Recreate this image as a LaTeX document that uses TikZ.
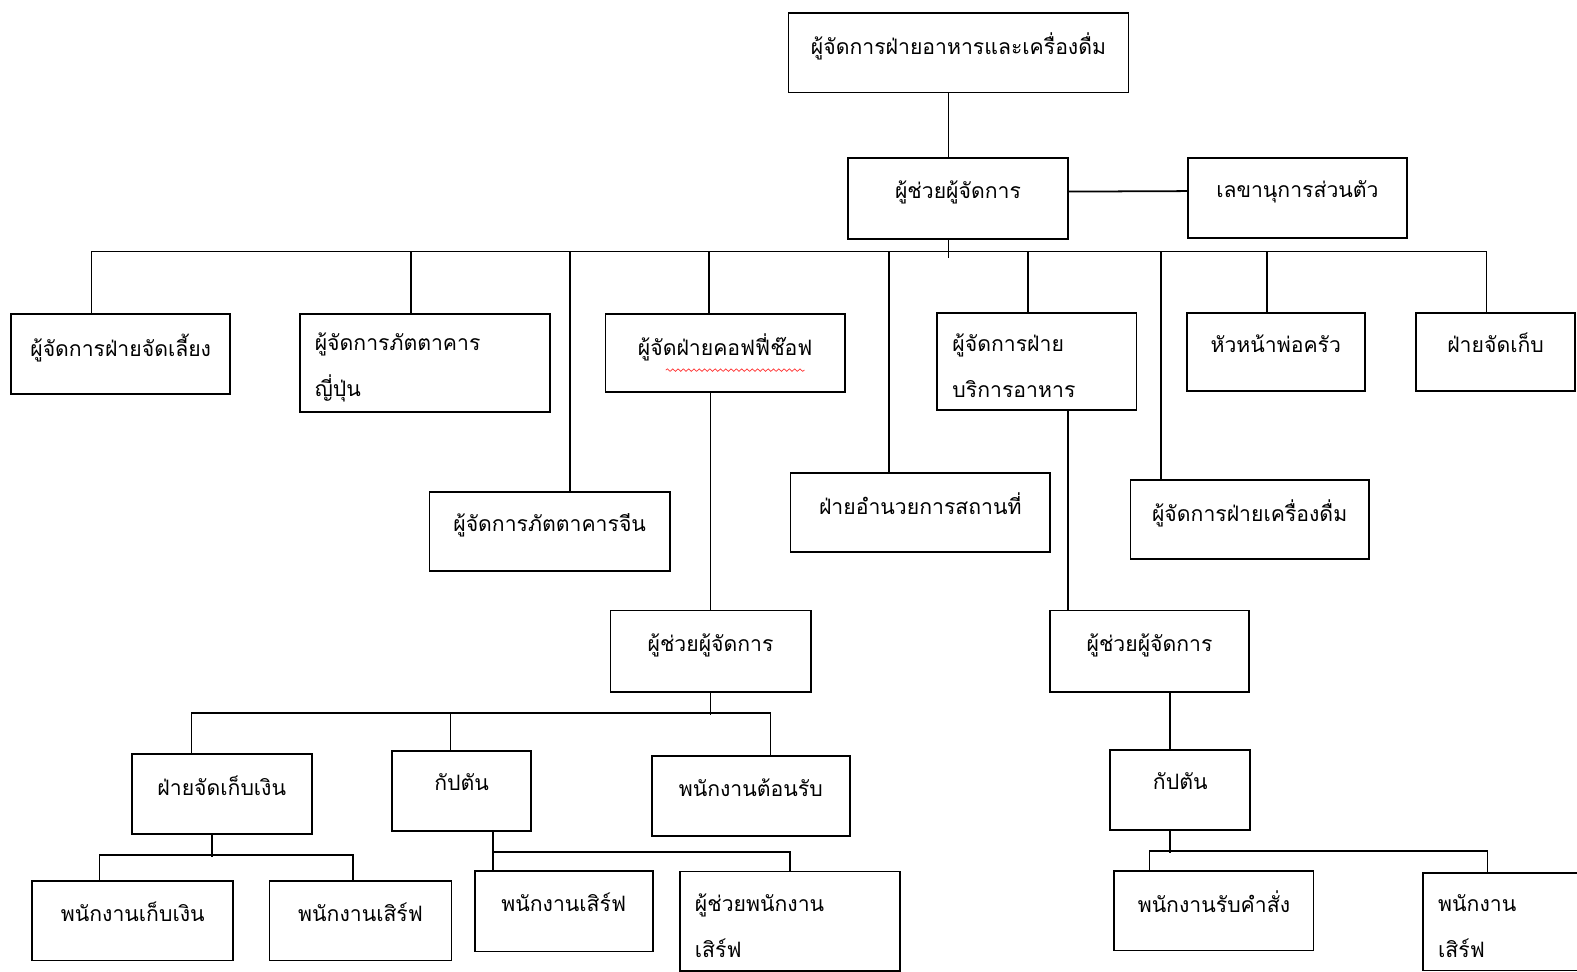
\documentclass[tikz,border=0pt]{standalone}
\usepackage{fontspec}
\setmainfont[Script=Thai]{Loma}
\usepackage{tikz}
\usetikzlibrary{calc,decorations.pathmorphing}

\begin{document}
\begin{tikzpicture}[
  x=0.02cm, y=-0.02cm,
  post/.style={
    draw,
    rectangle,
    line width=1pt,
    inner sep=0pt,
    text depth=10pt
  },
  wrap/.style={
    align=left,
    text width=#1,
    text depth={},
    text height=15pt
  },
  boxsize/.style 2 args={
    minimum width=#1*0.02cm,
    minimum height=#2*0.02cm
  },
  link/.style={line width=1pt},
  font=\fontsize{12pt}{26pt}\selectfont
]
\useasboundingbox (0,0) rectangle (1568,966);

\node[post,boxsize={338}{79}] (fnb) at (953,52.5) {ผู้จัดการฝ่ายอาหารและเครื่องดื่ม};
\node[post,boxsize={219}{81}] (asst) at (952.5,197.5) {ผู้ช่วยผู้จัดการ};
\node[post,boxsize={218}{80}] (secr) at (1290,197) {เลขานุการส่วนตัว};

\node[post,boxsize={218}{80}] (banq) at (120,352) {ผู้จัดการฝ่ายจัดเลี้ยง};
\node[post,wrap=4.38cm,boxsize={249}{98}] (japan) at (422.5,361) {ผู้จัดการภัตตาคาร\\ญี่ปุ่น};
\node[post,boxsize={239}{79}] (china) at (546.5,528.5) {ผู้จัดการภัตตาคารจีน};
\node[post,boxsize={238}{78}] (coffee) at (721,351) {ผู้จัดฝ่ายคอฟฟี่ช๊อฟ};
\node[post,boxsize={258}{79}] (venue) at (915,509.5) {ฝ่ายอำนวยการสถานที่};
\node[post,wrap=3.36cm,boxsize={198}{97}] (service) at (1031,359.5) {ผู้จัดการฝ่าย\\บริการอาหาร};
\node[post,boxsize={237}{79}] (bev) at (1242.5,516.5) {ผู้จัดการฝ่ายเครื่องดื่ม};
\node[post,boxsize={177}{78}] (chef) at (1268.5,350) {หัวหน้าพ่อครัว};
\node[post,boxsize={158}{78}] (store) at (1487,350) {ฝ่ายจัดเก็บ};

\node[post,boxsize={199}{81}] (casst) at (706.5,647.5) {ผู้ช่วยผู้จัดการ};
\node[post,boxsize={198}{81}] (sasst) at (1143,647.5) {ผู้ช่วยผู้จัดการ};

\node[post,boxsize={179}{79}] (cashdept) at (220.5,789.5) {ฝ่ายจัดเก็บเงิน};
\node[post,boxsize={138}{79}] (ccapt) at (459,786.5) {กัปตัน};
\node[post,boxsize={197}{79}] (recep) at (746.5,791.5) {พนักงานต้อนรับ};
\node[post,boxsize={139}{79}] (scapt) at (1173.5,785.5) {กัปตัน};

\node[post,boxsize={200}{79}] (cashier) at (132,915.5) {พนักงานเก็บเงิน};
\node[post,boxsize={181}{79}] (cwaiter) at (358.5,915.5) {พนักงานเสิร์ฟ};
\node[post,boxsize={177}{80}] (kwaiter) at (560.5,906) {พนักงานเสิร์ฟ};
\node[post,wrap=3.78cm,boxsize={219}{99}] (helper) at (785.5,916) {ผู้ช่วยพนักงาน\\เสิร์ฟ};
\node[post,boxsize={198}{79}] (order) at (1207,905.5) {พนักงานรับคำสั่ง};
\node[post,wrap=3.1cm,boxsize={185}{97}] (swaiter) at (1507.5,916.5) {พนักงาน\\เสิร์ฟ};

\draw[link] ($(fnb.south)+(-10,0)$) -- ++(0,65);
\draw[link] ($(asst.east)+(0,-7)$) -- ($(secr.west)+(0,-7)$);
\draw[link] ($(asst.south)+(-9.5,0)$) -- ++(0,18);
\draw[link] ($(banq.north)+(-29,0)$) -- ++(0,-61) -| ($(store.north)+(-9,0)$);
\draw[link] ($(japan.north)+(-14,0)$) -- ++(0,-61);
\draw[link] ($(china.north)+(20,0)$) -- ++(0,-238);
\draw[link] ($(coffee.north)+(-16,0)$) -- ++(0,-61);
\draw[link] ($(venue.north)+(-31,0)$) -- ++(0,-219);
\draw[link] ($(service.north)+(-9,0)$) -- ++(0,-60);
\draw[link] ($(bev.north)+(-88.5,0)$) -- ++(0,-226);
\draw[link] ($(chef.north)+(-8.5,0)$) -- ++(0,-60);
\draw[red!80,line width=0.4pt,decorate,decoration={snake,amplitude=0.7pt,segment length=3pt}]
  ($(coffee)+(-59,17)$) -- ($(coffee)+(79,17)$);

\draw[link] (coffee.south -| casst) -- (casst.north);
\draw[link] ($(service.south)+(31,0)$) -- ++(0,199);

\draw[link] (casst.south) -- ++(0,22);
\draw[link] ($(cashdept.north)+(-30,0)$) -- ++(0,-40) -| ($(recep.north)+(19.5,0)$);
\draw[link] ($(ccapt.north)+(-11,0)$) -- ++(0,-37);
\draw[link] ($(cashdept.south)+(-9.5,0)$) -- ++(0,22);
\draw[link] ($(cashier.north)+(-33,0)$) -- ++(0,-25) -| ($(cwaiter.north)+(-7.5,0)$);
\draw[link] ($(ccapt.south)+(31,0)$) -- ++(0,22);
\draw[link] ($(kwaiter.north)+(-70.5,0)$) -- ++(0,-18) -| (helper.north);

\draw[link] ($(sasst.south)+(20,0)$) -- ++(0,58);
\draw[link] ($(scapt.south)+(-10.5,0)$) -- ++(0,22);
\draw[link] ($(order.north)+(-64,0)$) -- ++(0,-19) -| ($(swaiter.north)+(-28.5,0)$);
\end{tikzpicture}
\end{document}
